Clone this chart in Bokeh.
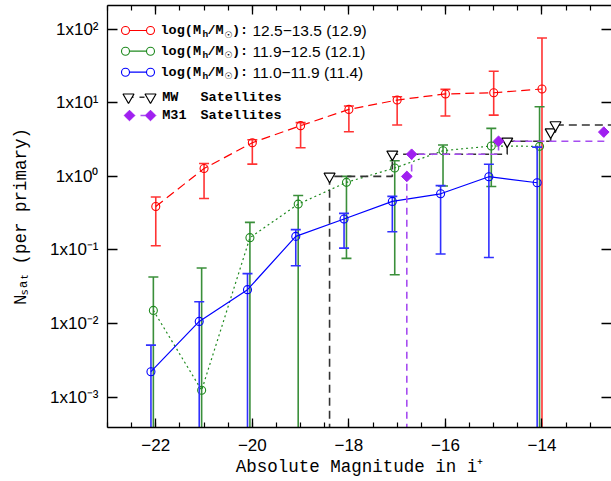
import numpy as np
from bokeh.plotting import figure
from bokeh.models import (FixedTicker, CustomJSTickFormatter, LinearAxis, LogAxis,
                          Range1d, Label)
from bokeh.embed import file_html
from bokeh.resources import INLINE

# ---------------- data ----------------
mags = [-22, -21, -20, -19, -18, -17, -16, -15, -14]

red_n = [0.39, 1.28, 2.87, 4.89, 8.13, 10.9, 13.2, 13.7, 15.4]
red_hi = [0.525, 1.50, 3.15, 5.37, 9.05, 12.1, 15.2, 26.8, 76.0]
red_lo = [0.114, 0.50, 1.47, 2.45, 4.05, 4.99, 6.6, 6.8, 0.0]

green_n = [0.0151, 0.00124, 0.147, 0.42, 0.83, 1.30, 2.23, 2.59, 2.56]
green_hi = [0.043, 0.057, 0.237, 0.55, 1.00, 1.63, 2.67, 4.49, 8.85]
green_lo = [0.0, 0.0, 0.0, 0.0, 0.077, 0.046, 0.74, 0.73, 0.0]

blue_n = [0.00222, 0.0107, 0.0289, 0.153, 0.264, 0.457, 0.58, 0.99, 0.82]
blue_hi = [0.0051, 0.0198, 0.0477, 0.189, 0.314, 0.535, 0.75, 1.46, 2.5]
blue_lo = [0.0, 0.0, 0.0, 0.061, 0.106, 0.177, 0.088, 0.079, 0.0]

mw_mag = [-18.4, -17.1, -14.72, -13.82, -13.72]
mw_n = [1, 2, 3, 4, 5]

m31_mag = [-16.8, -16.7, -14.9, -12.72]
m31_n = [1, 2, 3, 4]

legend_ranges = ["12.5\u221213.5 (12.9)", "11.9\u221212.5 (12.1)", "11.0\u221211.9 (11.4)"]
x_ticks = [-22, -20, -18, -16, -14]
y_ticks = [1e-3, 1e-2, 1e-1, 1.0, 1e1, 1e2]

# ---------------- styles ----------------
RED, RED_BAR = "#ff0000", "#ff3333"
GREEN, GREEN_BAR = "#1f8a1f", "#3a8f3a"
BLUE, BLUE_BAR = "#0000ff", "#3030ff"
PURPLE = "#a020f0"
PURPLE_LINE = "#a64df0"
DODGE = {"red": 0.0, "green": -0.05, "blue": -0.10}
MONO = "Liberation Mono"

XMIN, XMAX = -23.0, -12.56
LYMIN, LYMAX = -3.412, 2.322
YMIN, YMAX = 10 ** LYMIN, 10 ** LYMAX
FL, FT, FW, FH = 107, 5, 504, 422   # frame box in canvas px (for legend placement)

p = figure(width=611, height=481, x_range=Range1d(XMIN, XMAX),
           y_range=Range1d(YMIN, YMAX), y_axis_type="log",
           output_backend="svg", toolbar_location=None,
           min_border_left=107, min_border_right=0, min_border_top=5,
           min_border_bottom=54)
p.outline_line_color = None
p.grid.visible = False
p.background_fill_color = "white"
p.border_fill_color = "white"

x_minor = [float(v) for v in np.arange(-23.0, -12.5, 0.5)]
xt = FixedTicker(ticks=x_ticks, minor_ticks=x_minor)
yt = FixedTicker(ticks=y_ticks, minor_ticks=[])

xfmt = CustomJSTickFormatter(code="return (tick < 0 ? '\\u2212' : '') + Math.abs(tick).toFixed(0);")
yfmt = CustomJSTickFormatter(code="""
const e = Math.round(Math.log10(tick));
const sup = {'-':'\\u207b','0':'\\u2070','1':'\\u00b9','2':'\\u00b2','3':'\\u00b3',
             '4':'\\u2074','5':'\\u2075','6':'\\u2076','7':'\\u2077','8':'\\u2078','9':'\\u2079'};
return '1x10' + String(e).split('').map(c => sup[c]).join('');
""")
blank = CustomJSTickFormatter(code="return '';")


def style_axis(ax, minor=True):
    ax.axis_line_color = "black"
    ax.axis_line_width = 1.3
    ax.major_tick_line_color = "black"
    ax.major_tick_line_width = 1.3
    ax.major_tick_in = 9
    ax.major_tick_out = 0
    ax.minor_tick_line_color = "black" if minor else None
    ax.minor_tick_line_width = 1.2
    ax.minor_tick_in = 5
    ax.minor_tick_out = 0
    ax.major_label_text_font = "Liberation Sans"
    ax.major_label_text_font_size = "17px"
    ax.major_label_text_color = "black"


xa = p.xaxis[0]
xa.ticker = xt
xa.formatter = xfmt
style_axis(xa)
xa.major_label_standoff = 11
xa.axis_label = "Absolute Magnitude in i\u207a"
xa.axis_label_text_font = MONO
xa.axis_label_text_font_size = "17.5px"
xa.axis_label_text_font_style = "normal"
xa.axis_label_text_color = "black"
xa.axis_label_standoff = 3

ya = p.yaxis[0]
ya.ticker = yt
ya.formatter = yfmt
style_axis(ya, minor=False)
ya.major_tick_in = 10
ya.major_label_standoff = 9
ya.axis_label = "N\u209b\u2090\u209c (per primary)"
ya.axis_label_text_font = MONO
ya.axis_label_text_font_size = "17.5px"
ya.axis_label_text_font_style = "normal"
ya.axis_label_text_color = "black"
ya.axis_label_standoff = 16

top = LinearAxis(ticker=xt, formatter=blank)
style_axis(top)
top.major_label_text_font_size = "0px"
top.major_label_standoff = 0
p.add_layout(top, "above")

right = LogAxis(ticker=yt, formatter=blank)
style_axis(right, minor=False)
right.major_tick_in = 10
right.axis_line_color = None
right.major_label_text_font_size = "0px"
right.major_label_standoff = 0
p.add_layout(right, "right")

FLOOR = YMIN / 100.0


def series(n, hi, lo, dodge, color, barcolor, dash):
    xs = [m + dodge for m in mags]
    lo_d = [v if v > 0 else FLOOR for v in lo]
    p.segment(x0=xs, y0=lo_d, x1=xs, y1=hi, line_color=barcolor, line_width=1.6)
    p.scatter(x=xs, y=hi, marker="dash", size=10, line_color=barcolor, line_width=1.6)
    cx = [x for x, v in zip(xs, lo) if v > 0]
    cy = [v for v in lo if v > 0]
    p.scatter(x=cx, y=cy, marker="dash", size=10, line_color=barcolor, line_width=1.6)
    p.line(xs, n, line_color=color, line_width=1.2, line_dash=dash)
    p.scatter(x=xs, y=n, marker="circle", size=8, fill_color=None,
              line_color=color, line_width=1.1)


def step_xy(mg, cnt, floor, xend):
    xs, ys = [mg[0]], [floor]
    for i, (m, c) in enumerate(zip(mg, cnt)):
        nxt = mg[i + 1] if i + 1 < len(mg) else xend
        xs += [m, nxt]
        ys += [c, c]
    return xs, ys


series(red_n, red_hi, red_lo, DODGE["red"], RED, RED_BAR, "9 5")
series(green_n, green_hi, green_lo, DODGE["green"], GREEN, GREEN_BAR, "2 3")
series(blue_n, blue_hi, blue_lo, DODGE["blue"], BLUE, BLUE_BAR, "solid")

sx, sy = step_xy(mw_mag, mw_n, FLOOR, XMAX + 1)
p.line(sx, sy, line_color="#333333", line_width=1.6, line_dash="8 5")
sx, sy = step_xy(m31_mag, m31_n, FLOOR, XMAX + 1)
p.line(sx, sy, line_color=PURPLE_LINE, line_width=1.6, line_dash="7 5")

p.scatter(x=mw_mag, y=mw_n, marker="inverted_triangle", size=11,
          fill_color="white", line_color="black", line_width=1.2)
p.scatter(x=m31_mag, y=m31_n, marker="square", angle=np.pi / 4, size=7.5,
          fill_color=PURPLE, line_color=PURPLE)


# ---------------- legend (placed by canvas pixel) ----------------
def dx(px):
    return XMIN + (px - FL) * (XMAX - XMIN) / FW


def dy(py):
    return 10 ** (LYMAX - (py - FT) * (LYMAX - LYMIN) / FH)


def lab(text, px, py, size, font=MONO, style="bold"):
    p.add_layout(Label(x=dx(px), y=dy(py), text=text, text_font=font,
                       text_font_size=f"{size}px", text_font_style=style,
                       text_baseline="middle", text_align="left",
                       text_color="black"))


rows_y = [30, 50.7, 71.7]
for ry, rng, col in zip(rows_y, legend_ranges, [RED, GREEN, BLUE]):
    p.line([dx(125), dx(150)], [dy(ry), dy(ry)], line_color=col, line_width=1.2)
    p.scatter(x=[dx(125), dx(150)], y=[dy(ry), dy(ry)], marker="circle", size=8,
              fill_color="white", line_color=col, line_width=1.1)
    lab("log(M", 160, ry, 13.5)
    lab("h", 202, ry + 4, 9.5)
    lab("/M", 207, ry, 13.5)
    lab("\u2609", 224, ry + 4, 9, font="DejaVu Sans", style="normal")
    lab("):", 231.5, ry, 13.5)
    lab(rng, 252, ry, 15.5, font="Liberation Sans", style="normal")

my = 96.7
p.line([dx(128), dx(150)], [dy(my), dy(my)], line_color="#333333", line_width=1.4,
       line_dash="5 6")
p.scatter(x=[dx(128), dx(150)], y=[dy(my), dy(my)], marker="inverted_triangle", size=11,
          fill_color="white", line_color="black", line_width=1.2)
lab("MW", 161.7, my, 13.5)
lab("Satellites", 200, my, 13.5)

ay = 115
p.line([dx(129), dx(150)], [dy(ay), dy(ay)], line_color=PURPLE_LINE, line_width=1.4,
       line_dash="5 6")
p.scatter(x=[dx(129), dx(150)], y=[dy(ay), dy(ay)], marker="square", angle=np.pi / 4,
          size=7.5, fill_color=PURPLE, line_color=PURPLE)
lab("M31", 161.7, ay, 13.5)
lab("Satellites", 200, ay, 13.5)

open("out.html", "w", encoding="utf-8").write(file_html(p, INLINE))
